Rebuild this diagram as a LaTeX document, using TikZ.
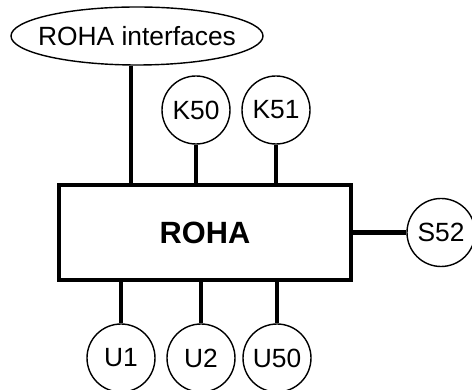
\documentclass[tikz,border=0pt]{standalone}
\usepackage{fontspec}
\setmainfont{Liberation Sans}
\usetikzlibrary{shapes.geometric}
\begin{document}
\begin{tikzpicture}[font=\fontsize{15}{18}\selectfont,
        unit/.style={draw, circle, line width=0.8pt, minimum size=1.36cm, inner sep=0pt},
        link/.style={line width=2.7pt}]
            \useasboundingbox (0, 0) rectangle (9.44, 7.8);
            % Central block and interface list
            \node[draw, line width=2.8pt, minimum width=5.84cm, minimum height=1.9cm,
                font=\fontsize{17.5}{21}\selectfont\bfseries] (roha) at (4.1, 3.15) {ROHA};
            \node[draw, ellipse, line width=0.8pt, minimum width=5.04cm, minimum height=1.16cm,
                inner xsep=-0.3cm, inner ysep=0pt] (rint) at (2.74, 7.08) {ROHA interfaces};
            % Units above
            \node[unit] (k50) at (3.92, 5.6) {K50};
            \node[unit] (k51) at (5.52, 5.6) {K51};
            % Unit on the right
            \node[unit] (s52) at (8.82, 3.15) {S52};
            % Units below
            \node[unit] (u1) at (2.42, 0.64) {U1};
            \node[unit] (u2) at (4.02, 0.64) {U2};
            \node[unit] (u50) at (5.54, 0.64) {U50};

            \draw[link] ([xshift=-0.12cm]rint.south) -- ([xshift=-0.12cm]rint.south |- roha.north);
            \draw[link] (k50.south) -- (k50.south |- roha.north);
            \draw[link] (k51.south) -- (k51.south |- roha.north);
            \draw[link] (roha.east) -- (s52.west);
            \draw[link] (u1.north) -- (u1.north |- roha.south);
            \draw[link] (u2.north) -- (u2.north |- roha.south);
            \draw[link] (u50.north) -- (u50.north |- roha.south);
        \end{tikzpicture}
\end{document}
